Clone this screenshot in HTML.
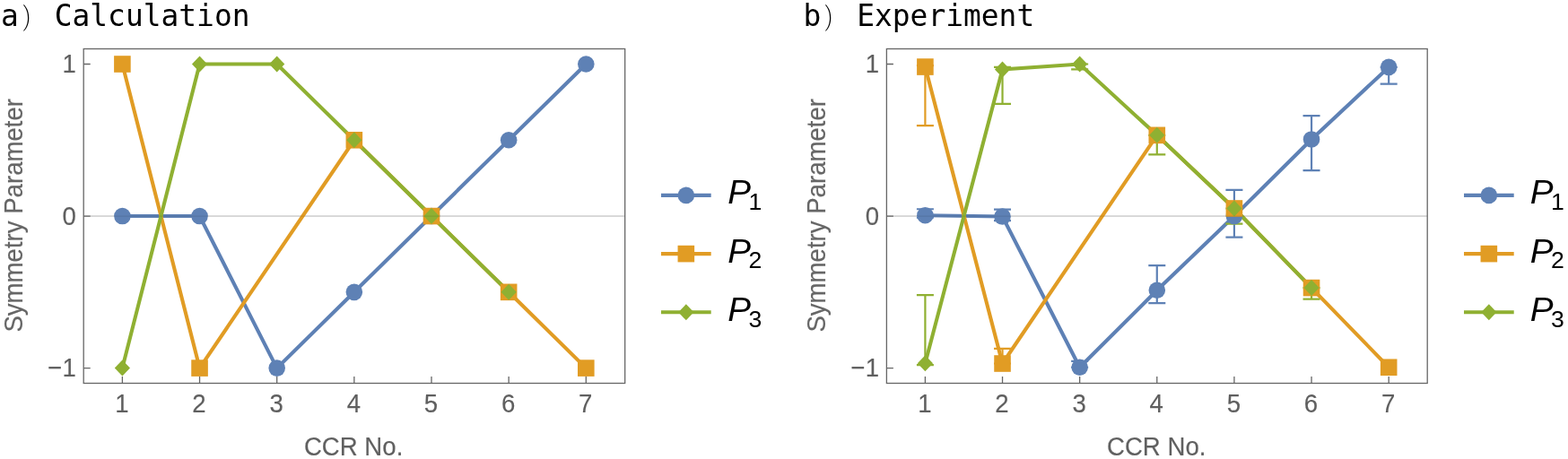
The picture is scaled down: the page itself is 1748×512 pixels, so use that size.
<!DOCTYPE html>
<html lang="en">
<head>
<meta charset="utf-8">
<title>Symmetry Parameter vs CCR No.</title>
<style>
html,body{margin:0;padding:0;background:#fff;}
body{width:1748px;height:512px;overflow:hidden;position:relative;}
svg{display:block;}
text{font-family:"Liberation Sans",sans-serif;}
.tk{font-size:27.6px;fill:#5f5f5f;stroke:#5f5f5f;stroke-width:0.15px;}
.ax{font-size:27.6px;fill:#606060;stroke:#606060;stroke-width:0.15px;}
.ay{fill:#666;stroke:#666;stroke-width:0.15px;}
.lg{font-size:37px;fill:#000;}
.sub{font-size:25.5px;}
.tt{position:absolute;top:-9.5px;height:48px;line-height:48px;white-space:nowrap;font-family:"DejaVu Sans Mono","Liberation Mono","Noto Sans CJK SC",monospace;font-size:32.9px;color:#000;}
.cj{display:inline-block;width:39.6px;font-family:"Noto Serif CJK SC","Noto Sans CJK SC",serif;font-weight:300;transform-origin:0 50%;transform:translate(3.7px,3.6px) scale(0.66,0.97);}
.w{display:inline-block;margin-left:0.4px;}
</style>
</head>
<body>
<svg width="1748" height="512" viewBox="0 0 1748 512">
<rect width="1748" height="512" fill="#fff"/>
<line x1="93.2" y1="241.05" x2="696.7" y2="241.05" stroke="#dedede" stroke-width="1.5"/>
<polyline points="136.40,241.05 222.55,241.05 308.70,410.60 394.85,325.83 481.00,241.05 567.15,156.28 653.30,71.50" fill="none" stroke="#5e81b5" stroke-width="4.1" stroke-linejoin="miter"/>
<polyline points="136.40,71.50 222.55,410.60 394.85,156.28 481.00,241.05 567.15,325.83 653.30,410.60" fill="none" stroke="#e19c24" stroke-width="4.1" stroke-linejoin="miter"/>
<polyline points="136.40,410.60 222.55,71.50 308.70,71.50 394.85,156.28 481.00,241.05 567.15,325.83" fill="none" stroke="#8fb032" stroke-width="4.1" stroke-linejoin="miter"/>
<circle cx="136.40" cy="241.05" r="9.3" fill="#5e81b5"/>
<circle cx="222.55" cy="241.05" r="9.3" fill="#5e81b5"/>
<circle cx="308.70" cy="410.60" r="9.3" fill="#5e81b5"/>
<circle cx="394.85" cy="325.83" r="9.3" fill="#5e81b5"/>
<circle cx="481.00" cy="241.05" r="9.3" fill="#5e81b5"/>
<circle cx="567.15" cy="156.28" r="9.3" fill="#5e81b5"/>
<circle cx="653.30" cy="71.50" r="9.3" fill="#5e81b5"/>
<rect x="127.10" y="62.20" width="18.6" height="18.6" fill="#e19c24"/>
<rect x="213.25" y="401.30" width="18.6" height="18.6" fill="#e19c24"/>
<rect x="385.55" y="146.97" width="18.6" height="18.6" fill="#e19c24"/>
<rect x="471.70" y="231.75" width="18.6" height="18.6" fill="#e19c24"/>
<rect x="557.85" y="316.53" width="18.6" height="18.6" fill="#e19c24"/>
<rect x="644.00" y="401.30" width="18.6" height="18.6" fill="#e19c24"/>
<path d="M127.80 410.60L136.40 401.60L145.00 410.60L136.40 419.60Z" fill="#8fb032"/>
<path d="M213.95 71.50L222.55 62.50L231.15 71.50L222.55 80.50Z" fill="#8fb032"/>
<path d="M300.10 71.50L308.70 62.50L317.30 71.50L308.70 80.50Z" fill="#8fb032"/>
<path d="M386.25 156.28L394.85 147.28L403.45 156.28L394.85 165.28Z" fill="#8fb032"/>
<path d="M472.40 241.05L481.00 232.05L489.60 241.05L481.00 250.05Z" fill="#8fb032"/>
<path d="M558.55 325.83L567.15 316.83L575.75 325.83L567.15 334.83Z" fill="#8fb032"/>
<line x1="93.2" y1="241.05" x2="696.7" y2="241.05" stroke="#000" stroke-opacity="0.09" stroke-width="1.3"/>
<rect x="93.2" y="54.5" width="603.5" height="373.0" fill="none" stroke="#666666" stroke-width="1.3"/>
<path d="M136.40 427.5v-7.5M222.55 427.5v-7.5M308.70 427.5v-7.5M394.85 427.5v-7.5M481.00 427.5v-7.5M567.15 427.5v-7.5M653.30 427.5v-7.5M93.2 410.60h7.5M93.2 241.05h7.5M93.2 71.50h7.5" stroke="#666666" stroke-width="1.3" fill="none"/>
<text class="tk" transform="translate(135.90,460.4) scale(1,1.055)" text-anchor="middle">1</text>
<text class="tk" transform="translate(222.05,460.4) scale(1,1.055)" text-anchor="middle">2</text>
<text class="tk" transform="translate(308.20,460.4) scale(1,1.055)" text-anchor="middle">3</text>
<text class="tk" transform="translate(394.35,460.4) scale(1,1.055)" text-anchor="middle">4</text>
<text class="tk" transform="translate(480.50,460.4) scale(1,1.055)" text-anchor="middle">5</text>
<text class="tk" transform="translate(566.65,460.4) scale(1,1.055)" text-anchor="middle">6</text>
<text class="tk" transform="translate(652.80,460.4) scale(1,1.055)" text-anchor="middle">7</text>
<text class="tk" transform="translate(84.80,81.00) scale(1,1.055)" text-anchor="end">1</text>
<text class="tk" transform="translate(84.80,250.55) scale(1,1.055)" text-anchor="end">0</text>
<text class="tk" transform="translate(84.80,420.10) scale(1,1.055)" text-anchor="end">−1</text>
<line x1="737" y1="217.9" x2="792.7" y2="217.9" stroke="#5e81b5" stroke-width="4.1"/>
<circle cx="764.85" cy="217.90" r="9.3" fill="#5e81b5"/>
<text class="lg" transform="translate(811.2,227.30) scale(1.045,1.015)"><tspan font-style="italic">P</tspan><tspan class="sub" dx="-2.3" dy="6.8">1</tspan></text>
<line x1="737" y1="283.1" x2="792.7" y2="283.1" stroke="#e19c24" stroke-width="4.1"/>
<rect x="755.55" y="273.80" width="18.6" height="18.6" fill="#e19c24"/>
<text class="lg" transform="translate(811.2,292.50) scale(1.045,1.015)"><tspan font-style="italic">P</tspan><tspan class="sub" dx="-2.3" dy="6.8">2</tspan></text>
<line x1="737" y1="348.3" x2="792.7" y2="348.3" stroke="#8fb032" stroke-width="4.1"/>
<path d="M756.25 348.30L764.85 339.30L773.45 348.30L764.85 357.30Z" fill="#8fb032"/>
<text class="lg" transform="translate(811.2,357.70) scale(1.045,1.015)"><tspan font-style="italic">P</tspan><tspan class="sub" dx="-2.3" dy="6.8">3</tspan></text>
<line x1="988.4" y1="241.05" x2="1591.2" y2="241.05" stroke="#dedede" stroke-width="1.5"/>
<polyline points="1031.40,240.20 1117.53,241.56 1203.66,409.75 1289.79,323.79 1375.92,241.05 1462.05,155.43 1548.18,74.89" fill="none" stroke="#5e81b5" stroke-width="4.1" stroke-linejoin="miter"/>
<polyline points="1031.40,74.55 1117.53,405.51 1289.79,150.85 1375.92,232.49 1462.05,321.08 1548.18,409.75" fill="none" stroke="#e19c24" stroke-width="4.1" stroke-linejoin="miter"/>
<polyline points="1031.40,405.17 1117.53,77.43 1203.66,71.50 1289.79,150.85 1375.92,232.49 1462.05,321.08" fill="none" stroke="#8fb032" stroke-width="4.1" stroke-linejoin="miter"/>
<path d="M1031.40 242.75V233.25M1021.90 242.75h19M1021.90 233.25h19" stroke="#5e81b5" stroke-width="2.2" fill="none"/>
<path d="M1117.53 246.14V233.59M1108.03 246.14h19M1108.03 233.59h19" stroke="#5e81b5" stroke-width="2.2" fill="none"/>
<path d="M1203.66 409.75V402.97M1194.16 409.75h19M1194.16 402.97h19" stroke="#5e81b5" stroke-width="2.2" fill="none"/>
<path d="M1289.79 338.03V296.15M1280.29 338.03h19M1280.29 296.15h19" stroke="#5e81b5" stroke-width="2.2" fill="none"/>
<path d="M1375.92 264.62V211.89M1366.42 264.62h19M1366.42 211.89h19" stroke="#5e81b5" stroke-width="2.2" fill="none"/>
<path d="M1462.05 190.19V129.15M1452.55 190.19h19M1452.55 129.15h19" stroke="#5e81b5" stroke-width="2.2" fill="none"/>
<path d="M1548.18 93.54V74.89M1538.68 93.54h19M1538.68 74.89h19" stroke="#5e81b5" stroke-width="2.2" fill="none"/>
<path d="M1031.40 140.17V73.20M1021.90 140.17h19M1021.90 73.20h19" stroke="#e19c24" stroke-width="2.2" fill="none"/>
<path d="M1117.53 405.51V388.90M1108.03 405.51h19M1108.03 388.90h19" stroke="#e19c24" stroke-width="2.2" fill="none"/>
<path d="M1031.40 407.21V329.22M1021.90 407.21h19M1021.90 329.22h19" stroke="#8fb032" stroke-width="2.2" fill="none"/>
<path d="M1117.53 115.84V74.89M1108.03 115.84h19M1108.03 74.89h19" stroke="#8fb032" stroke-width="2.2" fill="none"/>
<path d="M1203.66 77.43V71.50M1194.16 77.43h19M1194.16 71.50h19" stroke="#8fb032" stroke-width="2.2" fill="none"/>
<path d="M1289.79 172.38V150.85M1280.29 172.38h19M1280.29 150.85h19" stroke="#8fb032" stroke-width="2.2" fill="none"/>
<path d="M1375.92 249.70V232.49M1366.42 249.70h19M1366.42 232.49h19" stroke="#8fb032" stroke-width="2.2" fill="none"/>
<path d="M1462.05 333.62V321.08M1452.55 333.62h19M1452.55 321.08h19" stroke="#8fb032" stroke-width="2.2" fill="none"/>
<circle cx="1031.40" cy="240.20" r="9.3" fill="#5e81b5"/>
<circle cx="1117.53" cy="241.56" r="9.3" fill="#5e81b5"/>
<circle cx="1203.66" cy="409.75" r="9.3" fill="#5e81b5"/>
<circle cx="1289.79" cy="323.79" r="9.3" fill="#5e81b5"/>
<circle cx="1375.92" cy="241.05" r="9.3" fill="#5e81b5"/>
<circle cx="1462.05" cy="155.43" r="9.3" fill="#5e81b5"/>
<circle cx="1548.18" cy="74.89" r="9.3" fill="#5e81b5"/>
<rect x="1022.10" y="65.25" width="18.6" height="18.6" fill="#e19c24"/>
<rect x="1108.23" y="396.21" width="18.6" height="18.6" fill="#e19c24"/>
<rect x="1280.49" y="141.55" width="18.6" height="18.6" fill="#e19c24"/>
<rect x="1366.62" y="223.19" width="18.6" height="18.6" fill="#e19c24"/>
<rect x="1452.75" y="311.78" width="18.6" height="18.6" fill="#e19c24"/>
<rect x="1538.88" y="400.45" width="18.6" height="18.6" fill="#e19c24"/>
<path d="M1022.80 405.17L1031.40 396.17L1040.00 405.17L1031.40 414.17Z" fill="#8fb032"/>
<path d="M1108.93 77.43L1117.53 68.43L1126.13 77.43L1117.53 86.43Z" fill="#8fb032"/>
<path d="M1195.06 71.50L1203.66 62.50L1212.26 71.50L1203.66 80.50Z" fill="#8fb032"/>
<path d="M1281.19 150.85L1289.79 141.85L1298.39 150.85L1289.79 159.85Z" fill="#8fb032"/>
<path d="M1367.32 232.49L1375.92 223.49L1384.52 232.49L1375.92 241.49Z" fill="#8fb032"/>
<path d="M1453.45 321.08L1462.05 312.08L1470.65 321.08L1462.05 330.08Z" fill="#8fb032"/>
<line x1="988.4" y1="241.05" x2="1591.2" y2="241.05" stroke="#000" stroke-opacity="0.09" stroke-width="1.3"/>
<rect x="988.4" y="54.5" width="602.8000000000001" height="373.0" fill="none" stroke="#666666" stroke-width="1.3"/>
<path d="M1031.40 427.5v-7.5M1117.53 427.5v-7.5M1203.66 427.5v-7.5M1289.79 427.5v-7.5M1375.92 427.5v-7.5M1462.05 427.5v-7.5M1548.18 427.5v-7.5M988.4 410.60h7.5M988.4 241.05h7.5M988.4 71.50h7.5" stroke="#666666" stroke-width="1.3" fill="none"/>
<text class="tk" transform="translate(1030.90,460.4) scale(1,1.055)" text-anchor="middle">1</text>
<text class="tk" transform="translate(1117.03,460.4) scale(1,1.055)" text-anchor="middle">2</text>
<text class="tk" transform="translate(1203.16,460.4) scale(1,1.055)" text-anchor="middle">3</text>
<text class="tk" transform="translate(1289.29,460.4) scale(1,1.055)" text-anchor="middle">4</text>
<text class="tk" transform="translate(1375.42,460.4) scale(1,1.055)" text-anchor="middle">5</text>
<text class="tk" transform="translate(1461.55,460.4) scale(1,1.055)" text-anchor="middle">6</text>
<text class="tk" transform="translate(1547.68,460.4) scale(1,1.055)" text-anchor="middle">7</text>
<text class="tk" transform="translate(980.00,81.00) scale(1,1.055)" text-anchor="end">1</text>
<text class="tk" transform="translate(980.00,250.55) scale(1,1.055)" text-anchor="end">0</text>
<text class="tk" transform="translate(980.00,420.10) scale(1,1.055)" text-anchor="end">−1</text>
<line x1="1632" y1="217.9" x2="1687.7" y2="217.9" stroke="#5e81b5" stroke-width="4.1"/>
<circle cx="1659.85" cy="217.90" r="9.3" fill="#5e81b5"/>
<text class="lg" transform="translate(1705.7,227.30) scale(1.045,1.015)"><tspan font-style="italic">P</tspan><tspan class="sub" dx="-2.3" dy="6.8">1</tspan></text>
<line x1="1632" y1="283.1" x2="1687.7" y2="283.1" stroke="#e19c24" stroke-width="4.1"/>
<rect x="1650.55" y="273.80" width="18.6" height="18.6" fill="#e19c24"/>
<text class="lg" transform="translate(1705.7,292.50) scale(1.045,1.015)"><tspan font-style="italic">P</tspan><tspan class="sub" dx="-2.3" dy="6.8">2</tspan></text>
<line x1="1632" y1="348.3" x2="1687.7" y2="348.3" stroke="#8fb032" stroke-width="4.1"/>
<path d="M1651.25 348.30L1659.85 339.30L1668.45 348.30L1659.85 357.30Z" fill="#8fb032"/>
<text class="lg" transform="translate(1705.7,357.70) scale(1.045,1.015)"><tspan font-style="italic">P</tspan><tspan class="sub" dx="-2.3" dy="6.8">3</tspan></text>
<text class="ax" transform="translate(394.1,508.4) scale(1,1.07)" text-anchor="middle">CCR No.</text>
<text class="ax" transform="translate(1289.2,508.4) scale(1,1.07)" text-anchor="middle">CCR No.</text>
<text class="ax ay" transform="translate(25.2,240.3) rotate(-90) scale(1,1.05)" text-anchor="middle">Symmetry Parameter</text>
<text class="ax ay" transform="translate(920.4,240.3) rotate(-90) scale(1,1.05)" text-anchor="middle">Symmetry Parameter</text>
</svg>
<div class="tt" style="left:0.9px">a<span class="cj">）</span><span class="w">Calculation</span></div>
<div class="tt" style="left:895.4px">b<span class="cj">）</span><span class="w">Experiment</span></div>
</body>
</html>
